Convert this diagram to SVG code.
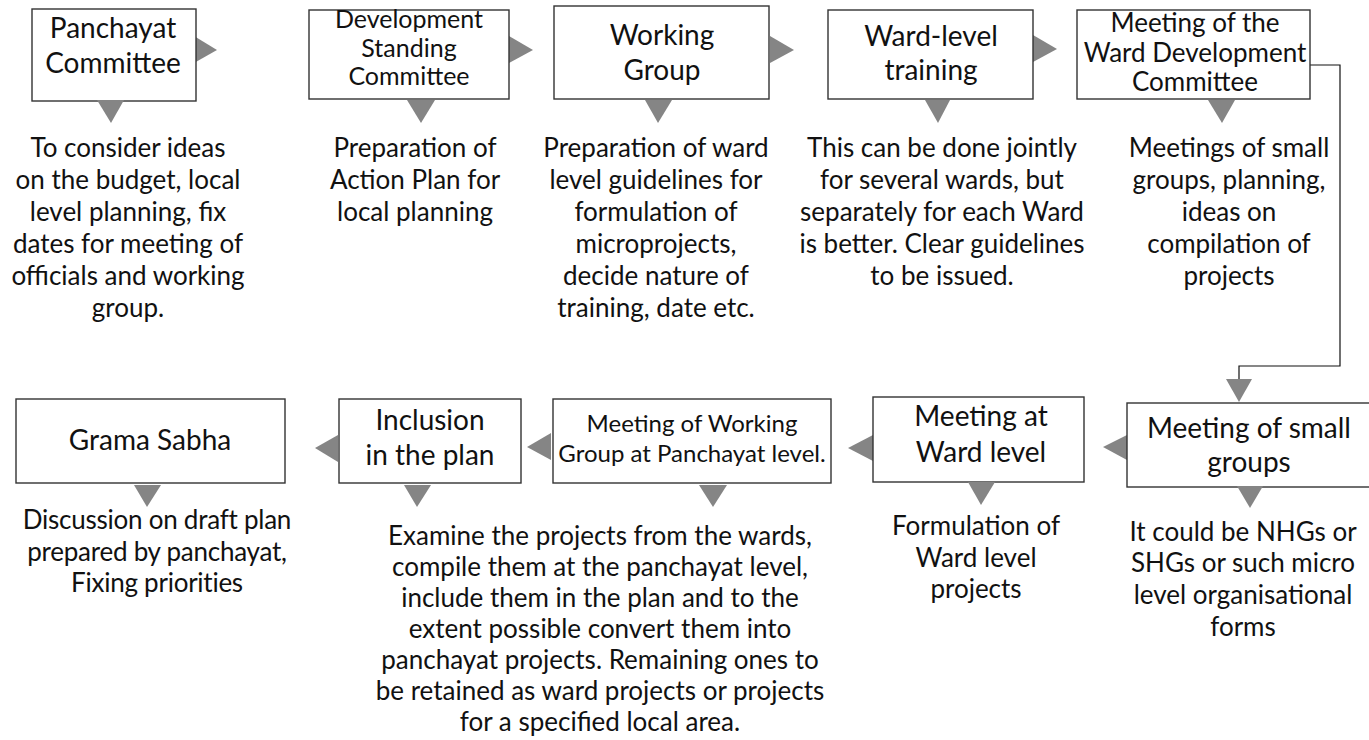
<svg xmlns="http://www.w3.org/2000/svg" width="1369" height="740" viewBox="0 0 1369 740">
<style>
.box{fill:#fff;stroke:#333;stroke-width:1.4}
.tri{fill:#858585}
.t{font-family:Lato,"Liberation Sans",sans-serif;font-size:26px;fill:#111;text-anchor:middle}
.b{font-size:28px}
.s{font-size:25px}
.m{font-size:24px}
.w{font-size:26px}
.line{fill:none;stroke:#111;stroke-width:1.2}
</style>
<rect width="1369" height="740" fill="#fff"/>
<g id="connectors">
<polyline class="line" points="1310,65 1340,65 1340,366 1239,366 1239,382"/>
<polygon class="tri" points="1226,379 1252,379 1239,402"/>
<polygon class="tri" points="194,36 217,50 194,63"/>
<polygon class="tri" points="509,36 533,50 509,63"/>
<polygon class="tri" points="770,36 794,50 770,63"/>
<polygon class="tri" points="1033,35 1057,49 1033,62"/>
<polygon class="tri" points="1127,435 1103,447 1127,460"/>
<polygon class="tri" points="873,435 848,448 873,461"/>
<polygon class="tri" points="551,433 527,447 551,460"/>
<polygon class="tri" points="338,435 315,448 338,462"/>
</g>
<g id="n1">
<rect class="box" x="32" y="9" width="164" height="92"/>
<polygon class="tri" points="97,100 124,100 111,123"/>
<text class="t b" x="113" y="38">Panchayat</text>
<text class="t b" x="113" y="73">Committee</text>
<text class="t" x="128"><tspan x="128" y="157">To consider ideas</tspan><tspan x="128" y="189">on the budget, local</tspan><tspan x="128" y="221">level planning, fix</tspan><tspan x="128" y="253">dates for meeting of</tspan><tspan x="128" y="285">officials and working</tspan><tspan x="128" y="317">group.</tspan></text>
</g>
<g id="n2">
<rect class="box" x="309" y="10" width="200" height="89"/>
<polygon class="tri" points="407,100 435,100 421,123"/>
<text class="t s" x="409" y="28">Development</text>
<text class="t s" x="409" y="57">Standing</text>
<text class="t s" x="409" y="85">Committee</text>
<text class="t" x="415"><tspan x="415" y="157">Preparation of</tspan><tspan x="415" y="189">Action Plan for</tspan><tspan x="415" y="221">local planning</tspan></text>
</g>
<g id="n3">
<rect class="box" x="554" y="6" width="215" height="93"/>
<polygon class="tri" points="645,100 672,100 658,123"/>
<text class="t b" x="662" y="45">Working</text>
<text class="t b" x="662" y="80">Group</text>
<text class="t" x="656"><tspan x="656" y="157">Preparation of ward</tspan><tspan x="656" y="189">level guidelines for</tspan><tspan x="656" y="221">formulation of</tspan><tspan x="656" y="253">microprojects,</tspan><tspan x="656" y="285">decide nature of</tspan><tspan x="656" y="317">training, date etc.</tspan></text>
</g>
<g id="n4">
<rect class="box" x="828" y="10" width="205" height="89"/>
<polygon class="tri" points="925,100 950,100 938,123"/>
<text class="t b" x="931" y="46">Ward-level</text>
<text class="t b" x="931" y="80">training</text>
<text class="t" x="942"><tspan x="942" y="157">This can be done jointly</tspan><tspan x="942" y="189">for several wards, but</tspan><tspan x="942" y="221">separately for each Ward</tspan><tspan x="942" y="253">is better. Clear guidelines</tspan><tspan x="942" y="285">to be issued.</tspan></text>
</g>
<g id="n5">
<rect class="box" x="1077" y="10" width="233" height="89"/>
<polygon class="tri" points="1208,100 1235,100 1222,123"/>
<text class="t w" x="1195" y="32">Meeting of the</text>
<text class="t w" x="1195" y="62">Ward Development</text>
<text class="t w" x="1195" y="91">Committee</text>
<text class="t" x="1229"><tspan x="1229" y="157">Meetings of small</tspan><tspan x="1229" y="189">groups, planning,</tspan><tspan x="1229" y="221">ideas on</tspan><tspan x="1229" y="253">compilation of</tspan><tspan x="1229" y="285">projects</tspan></text>
</g>
<g id="n6">
<rect class="box" x="1127" y="403" width="250" height="84"/>
<polygon class="tri" points="1237,486 1263,486 1250,508"/>
<text class="t b" x="1249" y="438">Meeting of small</text>
<text class="t b" x="1249" y="472">groups</text>
<text class="t" x="1243"><tspan x="1243" y="541">It could be NHGs or</tspan><tspan x="1243" y="572">SHGs or such micro</tspan><tspan x="1243" y="604">level organisational</tspan><tspan x="1243" y="636">forms</tspan></text>
</g>
<g id="n7">
<rect class="box" x="873" y="397" width="211" height="85"/>
<polygon class="tri" points="968,482 995,482 981,505"/>
<text class="t b" x="981" y="426">Meeting at</text>
<text class="t b" x="981" y="462">Ward level</text>
<text class="t" x="976"><tspan x="976" y="535">Formulation of</tspan><tspan x="976" y="567">Ward level</tspan><tspan x="976" y="598">projects</tspan></text>
</g>
<g id="n8">
<rect class="box" x="553" y="399" width="278" height="84"/>
<polygon class="tri" points="699,485 727,485 713,507"/>
<text class="t m" x="692" y="432">Meeting of Working</text>
<text class="t m" x="692" y="462">Group at Panchayat level.</text>
<text class="t" x="600"><tspan x="600" y="545">Examine the projects from the wards,</tspan><tspan x="600" y="576">compile them at the panchayat level,</tspan><tspan x="600" y="607">include them in the plan and to the</tspan><tspan x="600" y="638">extent possible convert them into</tspan><tspan x="600" y="669">panchayat projects. Remaining ones to</tspan><tspan x="600" y="700">be retained as ward projects or projects</tspan><tspan x="600" y="731">for a specified local area.</tspan></text>
</g>
<g id="n9">
<rect class="box" x="339" y="399" width="182" height="84"/>
<polygon class="tri" points="404,485 431,485 417,507"/>
<text class="t b" x="430" y="430">Inclusion</text>
<text class="t b" x="430" y="465">in the plan</text>
</g>
<g id="n10">
<rect class="box" x="16" y="399" width="269" height="84"/>
<polygon class="tri" points="134,485 161,485 147,507"/>
<text class="t b" x="150" y="450">Grama Sabha</text>
<text class="t" x="157" letter-spacing="-0.25"><tspan x="157" y="529">Discussion on draft plan</tspan><tspan x="157" y="561">prepared by panchayat,</tspan><tspan x="157" y="592">Fixing priorities</tspan></text>
</g>
</svg>
